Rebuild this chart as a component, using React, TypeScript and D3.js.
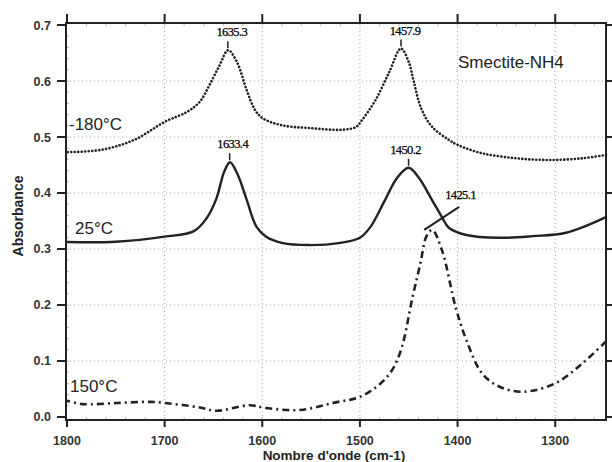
import React, { useEffect, useRef } from "react";
import * as d3 from "d3";

// -180°C spectrum (dotted)
const wn180 = [1800, 1765, 1731, 1700, 1677, 1664, 1654, 1644, 1635, 1626, 1616, 1608, 1600, 1580, 1552, 1518, 1504, 1498, 1484, 1470, 1458, 1450, 1445, 1437, 1426, 1409, 1400, 1375, 1340, 1306, 1272, 1248];
const ab180 = [0.473, 0.477, 0.495, 0.527, 0.545, 0.563, 0.593, 0.627, 0.655, 0.634, 0.584, 0.55, 0.534, 0.521, 0.516, 0.513, 0.518, 0.53, 0.566, 0.616, 0.658, 0.634, 0.6, 0.55, 0.518, 0.495, 0.486, 0.471, 0.462, 0.459, 0.462, 0.468];

// 25°C spectrum (solid)
const wn25 = [1800, 1750, 1700, 1670, 1657, 1647, 1639, 1633, 1625, 1616, 1606, 1596, 1580, 1552, 1520, 1500, 1489, 1475, 1462, 1450, 1440, 1426, 1416, 1409, 1391, 1357, 1323, 1289, 1248];
const ab25 = [0.3125, 0.313, 0.322, 0.332, 0.355, 0.39, 0.438, 0.455, 0.432, 0.388, 0.34, 0.322, 0.311, 0.307, 0.311, 0.32, 0.34, 0.385, 0.427, 0.445, 0.428, 0.387, 0.357, 0.338, 0.325, 0.32, 0.323, 0.329, 0.357];

// 150°C spectrum (dash-dot)
const wn150 = [1800, 1784, 1749, 1715, 1700, 1664, 1647, 1613, 1596, 1561, 1528, 1498, 1472, 1459, 1446, 1438, 1432, 1426, 1416, 1402, 1391, 1375, 1357, 1333, 1300, 1272, 1248];
const ab150 = [0.029, 0.023, 0.025, 0.027, 0.025, 0.017, 0.011, 0.021, 0.016, 0.0125, 0.025, 0.0375, 0.072, 0.114, 0.215, 0.275, 0.322, 0.334, 0.298, 0.196, 0.1375, 0.078, 0.054, 0.045, 0.06, 0.096, 0.135];

// peak annotations
const peakWn = [1635.3, 1457.9, 1633.4, 1450.2];
const peakAb = [0.655, 0.658, 0.455, 0.445];
const peakText = ["1635.3", "1457.9", "1633.4", "1450.2"];

const xTicks = [1800, 1700, 1600, 1500, 1400, 1300];
const yTicks = [0, 0.1, 0.2, 0.3, 0.4, 0.5, 0.6, 0.7];

export default function App() {
  const ref = useRef<SVGSVGElement | null>(null);

  useEffect(() => {
    const svg = d3.select(ref.current);
    svg.selectAll("*").remove();

    const left = 66, right = 606, top = 23, bottom = 420;
    const x = d3.scaleLinear().domain([1801, 1248]).range([left, right]);
    const y = d3.scaleLinear().domain([-0.0054, 0.7036]).range([bottom, top]);

    const g = svg.append("g");

    // grid
    g.selectAll(".vgrid")
      .data(xTicks.filter(d => d < 1800))
      .join("line")
      .attr("x1", d => x(d)).attr("x2", d => x(d))
      .attr("y1", top).attr("y2", bottom)
      .attr("stroke", "#aaa").attr("stroke-width", 1)
      .attr("stroke-dasharray", "1,3");
    g.selectAll(".hgrid")
      .data(yTicks.filter(d => d > 0 && d < 0.7))
      .join("line")
      .attr("x1", left).attr("x2", right)
      .attr("y1", d => y(d)).attr("y2", d => y(d))
      .attr("stroke", "#aaa").attr("stroke-width", 1)
      .attr("stroke-dasharray", "1,3");

    // minor ticks inside the frame
    const xMinor = d3.range(1780, 1248, -20);
    const yMinor = d3.range(0.02, 0.7, 0.02);
    g.selectAll(".xmin")
      .data(xMinor)
      .join("line")
      .attr("x1", d => x(d)).attr("x2", d => x(d))
      .attr("y1", bottom).attr("y2", bottom - 3)
      .attr("stroke", "#bbb");
    g.selectAll(".xmint")
      .data(xMinor)
      .join("line")
      .attr("x1", d => x(d)).attr("x2", d => x(d))
      .attr("y1", top).attr("y2", top + 3)
      .attr("stroke", "#bbb");
    g.selectAll(".ymin")
      .data(yMinor)
      .join("line")
      .attr("x1", left).attr("x2", left + 3)
      .attr("y1", d => y(d)).attr("y2", d => y(d))
      .attr("stroke", "#bbb");

    // curves
    const line = d3.line<[number, number]>()
      .x(d => x(d[0]))
      .y(d => y(d[1]))
      .curve(d3.curveCatmullRom.alpha(0.5));
    const asc = (w: number[], a: number[]) =>
      w.map((v, i) => [v, a[i]] as [number, number]).sort((p, q) => p[0] - q[0]);

    g.append("path")
      .attr("d", line(asc(wn180, ab180)))
      .attr("fill", "none")
      .attr("stroke", "#222")
      .attr("stroke-width", 2.6)
      .attr("stroke-linecap", "round")
      .attr("stroke-dasharray", "0.1,3.4");
    g.append("path")
      .attr("d", line(asc(wn25, ab25)))
      .attr("fill", "none")
      .attr("stroke", "#222")
      .attr("stroke-width", 2.4);
    g.append("path")
      .attr("d", line(asc(wn150, ab150)))
      .attr("fill", "none")
      .attr("stroke", "#222")
      .attr("stroke-width", 2.6)
      .attr("stroke-dasharray", "7,4,2,4");

    // frame
    g.append("rect")
      .attr("x", left).attr("y", top)
      .attr("width", right - left).attr("height", bottom - top)
      .attr("fill", "none").attr("stroke", "#222").attr("stroke-width", 2);

    // major ticks outside
    g.selectAll(".xtb").data(xTicks).join("line")
      .attr("x1", d => x(d)).attr("x2", d => x(d))
      .attr("y1", bottom).attr("y2", bottom + 7)
      .attr("stroke", "#222").attr("stroke-width", 2);
    g.selectAll(".xtt").data(xTicks).join("line")
      .attr("x1", d => x(d)).attr("x2", d => x(d))
      .attr("y1", top).attr("y2", top - 9)
      .attr("stroke", "#222").attr("stroke-width", 2);
    g.selectAll(".ytl").data(yTicks).join("line")
      .attr("x1", left - 9).attr("x2", left)
      .attr("y1", d => y(d)).attr("y2", d => y(d))
      .attr("stroke", "#222").attr("stroke-width", 2);
    g.selectAll(".ytr").data(yTicks).join("line")
      .attr("x1", right).attr("x2", right + 6)
      .attr("y1", d => y(d)).attr("y2", d => y(d))
      .attr("stroke", "#222").attr("stroke-width", 2);

    // tick labels
    g.selectAll(".xl").data(xTicks).join("text")
      .attr("x", d => x(d)).attr("y", 445)
      .attr("text-anchor", "middle")
      .style("font", "bold 12.5px 'Liberation Sans', Arial, sans-serif")
      .attr("fill", "#333")
      .text(d => String(d));
    g.selectAll(".yl").data(yTicks).join("text")
      .attr("x", 51).attr("y", d => y(d) + 4.5)
      .attr("text-anchor", "end")
      .style("font", "bold 12.5px 'Liberation Sans', Arial, sans-serif")
      .attr("fill", "#333")
      .text(d => d.toFixed(1));

    // axis titles
    g.append("text")
      .attr("x", 334).attr("y", 460)
      .attr("text-anchor", "middle")
      .style("font", "bold 13.5px 'Liberation Sans', Arial, sans-serif")
      .attr("fill", "#222")
      .text("Nombre d'onde (cm-1)");
    g.append("text")
      .attr("transform", "translate(23,216) rotate(-90)")
      .attr("text-anchor", "middle")
      .style("font", "bold 14px 'Liberation Sans', Arial, sans-serif")
      .attr("fill", "#222")
      .text("Absorbance");

    // series labels
    const lab = (t: string, lx: number, ly: number) =>
      g.append("text")
        .attr("x", lx).attr("y", ly)
        .style("font", "17px 'Liberation Sans', Arial, sans-serif")
        .attr("fill", "#222")
        .text(t);
    lab("-180°C", 69, 130);
    lab("25°C", 75, 234);
    lab("150°C", 70, 392);
    lab("Smectite-NH4", 458, 68);

    // peak markers (label nudged a little right, except the last one)
    const nudge = [4, 4, 3, -3];
    peakWn.forEach((w, i) => {
      const px = x(w), py = y(peakAb[i]);
      g.append("line")
        .attr("x1", px).attr("x2", px)
        .attr("y1", py - 2).attr("y2", py - 9)
        .attr("stroke", "#222").attr("stroke-width", 1.5);
      g.append("text")
        .attr("x", px + nudge[i]).attr("y", py - 14)
        .attr("text-anchor", "middle")
        .style("font", "12.5px 'Liberation Serif', 'Times New Roman', serif")
        .attr("letter-spacing", "-0.6")
        .attr("fill", "#000")
        .attr("stroke", "#000").attr("stroke-width", 0.25)
        .text(peakText[i]);
    });

    // 1425.1 leader line
    const lx = x(1426), ly = y(0.334);
    g.append("line")
      .attr("x1", lx - 8).attr("y1", ly)
      .attr("x2", lx + 27).attr("y2", ly - 23)
      .attr("stroke", "#222").attr("stroke-width", 2);
    g.append("text")
      .attr("x", lx + 13).attr("y", ly - 31)
      .style("font", "12.5px 'Liberation Serif', 'Times New Roman', serif")
      .attr("letter-spacing", "-0.6")
      .attr("fill", "#000")
      .attr("stroke", "#000").attr("stroke-width", 0.25)
      .text("1425.1");
  }, []);

  return (
    <svg ref={ref} width={612} height={462}
      style={{ position: "absolute", left: 0, top: 0, background: "#fff" }} />
  );
}
